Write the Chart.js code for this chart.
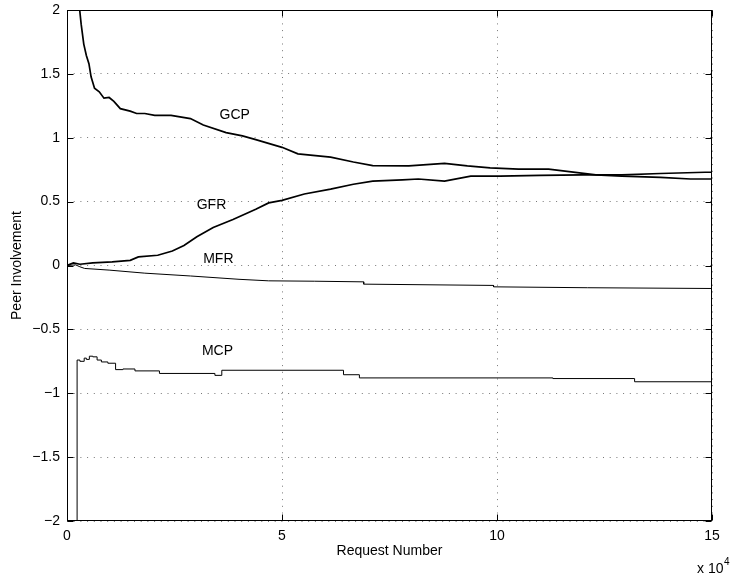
<!DOCTYPE html>
<html>
<head>
<meta charset="utf-8">
<title>Peer Involvement</title>
<script src="https://cdn.jsdelivr.net/npm/chart.js@4.4.1/dist/chart.umd.min.js"></script>
<style>
  html, body { margin: 0; padding: 0; background: #fff; }
  canvas { display: block; }
</style>
</head>
<body>
<canvas id="chart" width="734" height="578"></canvas>
<script>
// request number on the x axis is in units of 10^4
const gcpX = [0.295, 0.33, 0.39, 0.45, 0.51, 0.56, 0.64, 0.75, 0.86, 0.98, 1.09, 1.24, 1.47, 1.62, 1.81, 2.04, 2.42, 2.87, 3.17, 3.7, 4.08, 4.39, 5.0, 5.37, 6.13, 6.66, 7.11, 7.95, 8.78, 9.31, 9.84, 10.5, 11.2, 12.3, 12.9, 13.8, 14.5, 15];
const gcpY = [2.0, 1.887, 1.733, 1.644, 1.58, 1.477, 1.387, 1.36, 1.31, 1.315, 1.285, 1.228, 1.208, 1.19, 1.19, 1.175, 1.175, 1.15, 1.10, 1.04, 1.015, 0.985, 0.925, 0.874, 0.848, 0.81, 0.782, 0.78, 0.80, 0.78, 0.764, 0.755, 0.755, 0.71, 0.70, 0.69, 0.677, 0.677];

const gfrX = [0, 0.15, 0.3, 0.6, 1.05, 1.47, 1.66, 2.11, 2.45, 2.72, 3.02, 3.4, 3.86, 4.39, 4.69, 5.0, 5.52, 6.13, 6.66, 7.11, 7.8, 8.17, 8.78, 9.39, 10.07, 11, 12, 12.9, 13.8, 14.84, 15];
const gfrY = [0, 0.02, 0.01, 0.02, 0.028, 0.04, 0.067, 0.08, 0.113, 0.156, 0.225, 0.297, 0.36, 0.44, 0.49, 0.51, 0.56, 0.598, 0.636, 0.66, 0.67, 0.677, 0.66, 0.70, 0.70, 0.705, 0.71, 0.71, 0.72, 0.73, 0.73];

const mfrX = [0, 0.2, 0.3, 0.41, 0.98, 1.81, 2.87, 4.0, 4.69, 5.75, 6.9, 6.9, 9.92, 9.92, 12.1, 15];
const mfrY = [0, 0.005, -0.01, -0.023, -0.036, -0.06, -0.082, -0.108, -0.12, -0.123, -0.128, -0.146, -0.156, -0.167, -0.174, -0.18];

// MCP changes in steps: each point is where a new level starts
const mcpX = [0.235, 0.235, 0.3, 0.4, 0.45, 0.52, 0.6, 0.7, 0.8, 0.95, 1.13, 1.3, 1.58, 2.15, 3.44, 3.6, 6.43, 6.8, 11.3, 13.2, 15];
const mcpY = [-2.1, -0.74, -0.75, -0.725, -0.735, -0.71, -0.715, -0.74, -0.755, -0.765, -0.815, -0.81, -0.825, -0.845, -0.86, -0.82, -0.855, -0.88, -0.885, -0.91, -0.91];

const xTicks = [0, 5, 10, 15];
const yTicks = [-2, -1.5, -1, -0.5, 0, 0.5, 1, 1.5, 2];

const FONT = '"Liberation Sans", Arial, Helvetica, sans-serif';

function pts(xs, ys) {
  return xs.map((x, i) => ({ x: x, y: ys[i] }));
}

function fmt(v) {
  return String(v).replace('-', '\u2212');
}

// where each curve name sits, in data coordinates
const curveNames = [
  { text: 'GCP', x: 3.9, y: 1.18 },
  { text: 'GFR', x: 3.36, y: 0.47 },
  { text: 'MFR', x: 3.52, y: 0.05 },
  { text: 'MCP', x: 3.5, y: -0.67 }
];

const boxAndText = {
  id: 'boxAndText',
  afterDraw(chart) {
    const { ctx, chartArea: a, scales } = chart;
    const xs = scales.x, ys = scales.y;
    ctx.save();
    ctx.strokeStyle = '#000';
    ctx.lineWidth = 1;
    const L = Math.round(a.left) + 0.5, R = Math.round(a.right) - 0.5;
    const T = Math.round(a.top) + 0.5, B = Math.round(a.bottom) - 0.5;
    ctx.strokeRect(L, T, R - L, B - T);

    // inward tick marks on all four sides
    ctx.beginPath();
    xTicks.forEach(v => {
      const p = Math.round(xs.getPixelForValue(v)) + 0.5;
      ctx.moveTo(p, B); ctx.lineTo(p, B - 6);
      ctx.moveTo(p, T); ctx.lineTo(p, T + 6);
    });
    yTicks.forEach(v => {
      const p = Math.round(ys.getPixelForValue(v)) + 0.5;
      ctx.moveTo(L, p); ctx.lineTo(L + 6, p);
      ctx.moveTo(R, p); ctx.lineTo(R - 6, p);
    });
    ctx.stroke();

    ctx.fillStyle = '#000';
    ctx.font = '14px ' + FONT;
    ctx.textAlign = 'center';
    ctx.textBaseline = 'middle';
    curveNames.forEach(n => {
      ctx.fillText(n.text, xs.getPixelForValue(n.x), ys.getPixelForValue(n.y));
    });

    // axis titles
    ctx.fillText('Request Number', (a.left + a.right) / 2, 551);
    ctx.save();
    ctx.translate(17, (a.top + a.bottom) / 2);
    ctx.rotate(-Math.PI / 2);
    ctx.fillText('Peer Involvement', 0, 0);
    ctx.restore();

    // x 10^4 exponent note
    ctx.textAlign = 'left';
    ctx.fillText('x 10', 697, 569);
    ctx.font = '10px ' + FONT;
    ctx.fillText('4', 724, 562);
    ctx.restore();
  }
};

const gridStyle = { drawTicks: false, color: '#777', lineWidth: 1 };

new Chart(document.getElementById('chart'), {
  type: 'scatter',
  data: {
    datasets: [
      { label: 'GCP', data: pts(gcpX, gcpY), showLine: true, borderColor: '#000', borderWidth: 1.7, pointRadius: 0 },
      { label: 'GFR', data: pts(gfrX, gfrY), showLine: true, borderColor: '#000', borderWidth: 1.7, pointRadius: 0 },
      { label: 'MFR', data: pts(mfrX, mfrY), showLine: true, borderColor: '#000', borderWidth: 1, pointRadius: 0 },
      { label: 'MCP', data: pts(mcpX, mcpY), showLine: true, stepped: 'before', borderColor: '#000', borderWidth: 1, pointRadius: 0 }
    ]
  },
  options: {
    responsive: false,
    animation: false,
    devicePixelRatio: 1,
    events: [],
    layout: { padding: { left: 0, top: 10, right: 22, bottom: 0 } },
    plugins: { legend: { display: false }, tooltip: { enabled: false } },
    scales: {
      x: {
        type: 'linear',
        position: 'bottom',
        min: 0,
        max: 15,
        afterBuildTicks: s => { s.ticks = xTicks.map(v => ({ value: v })); },
        afterFit: s => { s.height = 57; s.paddingLeft = 0; s.paddingRight = 0; },
        grid: gridStyle,
        border: { display: false, dash: [1, 5.7] },
        ticks: {
          maxRotation: 0,
          padding: 7,
          color: '#000',
          font: { family: FONT, size: 14 },
          callback: v => fmt(v)
        }
      },
      y: {
        type: 'linear',
        position: 'left',
        min: -2,
        max: 2,
        afterBuildTicks: s => { s.ticks = yTicks.map(v => ({ value: v })); },
        afterFit: s => { s.width = 67; s.paddingTop = 0; s.paddingBottom = 0; },
        grid: gridStyle,
        border: { display: false, dash: [1, 5.7] },
        ticks: {
          padding: 7,
          color: '#000',
          font: { family: FONT, size: 14 },
          callback: v => fmt(v)
        }
      }
    }
  },
  plugins: [boxAndText]
});
</script>
</body>
</html>
